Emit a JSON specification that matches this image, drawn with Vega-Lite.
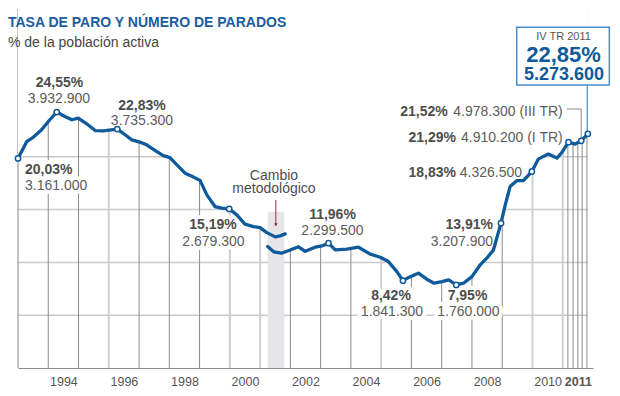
{
  "$schema": "https://vega.github.io/schema/vega-lite/v6.json",
  "width": 575,
  "height": 359,
  "autosize": "none",
  "padding": {"left": 18, "top": 9, "right": 27, "bottom": 28},
  "background": "white",
  "config": {"view": {"stroke": null}, "font": "Liberation Sans"},
  "title": {
    "text": "TASA DE PARO Y NÚMERO DE PARADOS",
    "subtitle": "% de la población activa",
    "anchor": "start",
    "frame": "group",
    "orient": "top",
    "offset": -42,
    "dx": -10,
    "font": "Liberation Sans",
    "fontSize": 14,
    "fontWeight": "bold",
    "color": "#1a5d9e",
    "subtitleFont": "Liberation Sans",
    "subtitleFontSize": 14,
    "subtitleColor": "#444444",
    "subtitlePadding": 6
  },
  "datasets": {
    "paro": [
      {"anio": 1993.00, "tasa": 19.85, "serie": "A", "parados": 3161000},
      {"anio": 1993.29, "tasa": 21.45, "serie": "A"},
      {"anio": 1993.51, "tasa": 21.87, "serie": "A"},
      {"anio": 1993.78, "tasa": 22.56, "serie": "A"},
      {"anio": 1994.03, "tasa": 23.44, "serie": "A"},
      {"anio": 1994.28, "tasa": 24.24, "serie": "A", "parados": 3932900},
      {"anio": 1994.55, "tasa": 23.82, "serie": "A"},
      {"anio": 1994.78, "tasa": 23.51, "serie": "A"},
      {"anio": 1994.99, "tasa": 23.67, "serie": "A"},
      {"anio": 1995.27, "tasa": 23.13, "serie": "A"},
      {"anio": 1995.55, "tasa": 22.49, "serie": "A"},
      {"anio": 1995.82, "tasa": 22.46, "serie": "A"},
      {"anio": 1996.28, "tasa": 22.63, "serie": "A", "parados": 3735300},
      {"anio": 1996.54, "tasa": 22.09, "serie": "A"},
      {"anio": 1996.76, "tasa": 21.61, "serie": "A"},
      {"anio": 1997.03, "tasa": 21.39, "serie": "A"},
      {"anio": 1997.25, "tasa": 21.14, "serie": "A"},
      {"anio": 1997.59, "tasa": 20.50, "serie": "A"},
      {"anio": 1997.80, "tasa": 20.12, "serie": "A"},
      {"anio": 1998.02, "tasa": 19.93, "serie": "A"},
      {"anio": 1998.25, "tasa": 19.24, "serie": "A"},
      {"anio": 1998.52, "tasa": 18.45, "serie": "A"},
      {"anio": 1998.80, "tasa": 18.08, "serie": "A"},
      {"anio": 1999.02, "tasa": 17.75, "serie": "A"},
      {"anio": 1999.24, "tasa": 16.40, "serie": "A"},
      {"anio": 1999.51, "tasa": 15.29, "serie": "A"},
      {"anio": 1999.73, "tasa": 15.14, "serie": "A"},
      {"anio": 1999.98, "tasa": 15.07, "serie": "A", "parados": 2679300},
      {"anio": 2000.23, "tasa": 14.50, "serie": "A"},
      {"anio": 2000.50, "tasa": 13.62, "serie": "A"},
      {"anio": 2000.78, "tasa": 13.39, "serie": "A"},
      {"anio": 2001.00, "tasa": 13.30, "serie": "A"},
      {"anio": 2001.22, "tasa": 12.82, "serie": "A"},
      {"anio": 2001.50, "tasa": 12.42, "serie": "A"},
      {"anio": 2001.66, "tasa": 12.51, "serie": "A"},
      {"anio": 2001.83, "tasa": 12.70, "serie": "A"},
      {"anio": 2001.25, "tasa": 11.50, "serie": "B"},
      {"anio": 2001.45, "tasa": 11.00, "serie": "B"},
      {"anio": 2001.70, "tasa": 10.87, "serie": "B"},
      {"anio": 2001.95, "tasa": 11.13, "serie": "B"},
      {"anio": 2002.27, "tasa": 11.48, "serie": "B"},
      {"anio": 2002.49, "tasa": 11.05, "serie": "B"},
      {"anio": 2002.82, "tasa": 11.44, "serie": "B"},
      {"anio": 2003.04, "tasa": 11.56, "serie": "B"},
      {"anio": 2003.26, "tasa": 11.82, "serie": "B", "parados": 2299500},
      {"anio": 2003.48, "tasa": 11.18, "serie": "B"},
      {"anio": 2003.87, "tasa": 11.25, "serie": "B"},
      {"anio": 2004.25, "tasa": 11.44, "serie": "B"},
      {"anio": 2004.64, "tasa": 10.78, "serie": "B"},
      {"anio": 2004.97, "tasa": 10.49, "serie": "B"},
      {"anio": 2005.24, "tasa": 10.08, "serie": "B"},
      {"anio": 2005.52, "tasa": 9.13, "serie": "B"},
      {"anio": 2005.72, "tasa": 8.27, "serie": "B", "parados": 1841300},
      {"anio": 2005.96, "tasa": 8.65, "serie": "B"},
      {"anio": 2006.23, "tasa": 8.98, "serie": "B"},
      {"anio": 2006.51, "tasa": 8.41, "serie": "B"},
      {"anio": 2006.75, "tasa": 8.03, "serie": "B"},
      {"anio": 2007.01, "tasa": 8.18, "serie": "B"},
      {"anio": 2007.23, "tasa": 8.34, "serie": "B"},
      {"anio": 2007.48, "tasa": 7.87, "serie": "B", "parados": 1760000},
      {"anio": 2007.72, "tasa": 8.03, "serie": "B"},
      {"anio": 2008.00, "tasa": 8.65, "serie": "B"},
      {"anio": 2008.27, "tasa": 9.76, "serie": "B"},
      {"anio": 2008.49, "tasa": 10.40, "serie": "B"},
      {"anio": 2008.71, "tasa": 11.18, "serie": "B"},
      {"anio": 2008.96, "tasa": 13.72, "serie": "B", "parados": 3207900},
      {"anio": 2009.10, "tasa": 15.45, "serie": "B"},
      {"anio": 2009.26, "tasa": 17.18, "serie": "B"},
      {"anio": 2009.49, "tasa": 17.75, "serie": "B"},
      {"anio": 2009.70, "tasa": 17.75, "serie": "B"},
      {"anio": 2009.98, "tasa": 18.61, "serie": "B", "parados": 4326500},
      {"anio": 2010.19, "tasa": 19.78, "serie": "B"},
      {"anio": 2010.52, "tasa": 20.26, "serie": "B"},
      {"anio": 2010.81, "tasa": 19.88, "serie": "B"},
      {"anio": 2010.97, "tasa": 20.41, "serie": "B"},
      {"anio": 2011.19, "tasa": 21.39, "serie": "B", "parados": 4910200},
      {"anio": 2011.41, "tasa": 21.20, "serie": "B"},
      {"anio": 2011.61, "tasa": 21.52, "serie": "B", "parados": 4978300},
      {"anio": 2011.83, "tasa": 22.18, "serie": "B", "parados": 5273600}
    ],
    "gridOscura": [
      {"anio": 1993}, {"anio": 1994}, {"anio": 1995}, {"anio": 1997}, {"anio": 1998}, {"anio": 1999},
      {"anio": 2002}, {"anio": 2003}, {"anio": 2004}, {"anio": 2006}, {"anio": 2007}, {"anio": 2008}, {"anio": 2009},
      {"anio": 2011.17}, {"anio": 2011.34}, {"anio": 2011.5}, {"anio": 2011.64}, {"anio": 2011.8}
    ],
    "gridClara": [
      {"anio": 1996}, {"anio": 2000}, {"anio": 2001}, {"anio": 2005}, {"anio": 2010}, {"anio": 2011}
    ],
    "gridH": [{"tasa": 5}, {"tasa": 10}, {"tasa": 15}, {"tasa": 20}]
  },
  "layer": [
    {
      "data": {"name": "gridH"},
      "mark": {"type": "rule", "color": "#c9c9c9", "strokeWidth": 1.5},
      "encoding": {
        "y": {"field": "tasa", "type": "quantitative", "scale": {"domain": [0, 34], "nice": false, "zero": true}, "axis": null},
        "x": {"datum": 1993, "type": "quantitative", "title": null},
        "x2": {"datum": 2011.83}
      }
    },
    {
      "data": {"name": "gridOscura"},
      "mark": {"type": "rule", "color": "#8a8a8a", "strokeWidth": 1},
      "encoding": {
        "x": {"field": "anio", "type": "quantitative", "title": null},
        "y": {"datum": 0, "type": "quantitative", "axis": null},
        "y2": {"datum": 34}
      }
    },
    {
      "data": {"name": "gridClara"},
      "mark": {"type": "rule", "color": "#cfcfcf", "strokeWidth": 2},
      "encoding": {
        "x": {"field": "anio", "type": "quantitative", "title": null},
        "y": {"datum": 0, "type": "quantitative", "axis": null},
        "y2": {"datum": 34}
      }
    },
    {
      "data": {"name": "paro"},
      "transform": [{"filter": "datum.serie == 'A' || datum.anio > 2001.9"}],
      "mark": {"type": "area", "color": "white", "opacity": 1},
      "encoding": {
        "x": {
          "field": "anio",
          "type": "quantitative",
          "scale": {"domain": [1993, 2012], "nice": false, "zero": false},
          "axis": {
            "title": null,
            "values": [1994.5, 1996.5, 1998.5, 2000.5, 2002.5, 2004.5, 2006.5, 2008.5, 2010.5, 2011.5],
            "labelExpr": "'' + floor(datum.value)",
            "grid": false,
            "ticks": false,
            "domain": true,
            "domainColor": "#8a8a8a",
            "domainWidth": 1,
            "labelFont": "Liberation Sans",
            "labelFontSize": 12.5,
            "labelColor": "#555555",
            "labelPadding": 7,
            "labelOverlap": false,
            "labelFlush": false,
            "labelBound": false,
            "labelFontWeight": {"condition": {"test": "datum.value > 2011", "value": "bold"}, "value": "normal"}
          }
        },
        "y": {"field": "tasa", "type": "quantitative", "axis": null},
        "y2": {"datum": 34}
      }
    },
    {
      "data": {"values": [{}]},
      "mark": {"type": "rect", "color": "#e6e6e9"},
      "encoding": {
        "x": {"datum": 2001.25, "type": "quantitative", "title": null},
        "x2": {"datum": 2001.80},
        "y": {"datum": 0, "type": "quantitative", "axis": null},
        "y2": {"datum": 14.8}
      }
    },
    {
      "data": {"values": [{}]},
      "encoding": {"x": {"datum": 1993.231, "type": "quantitative", "title": null}, "y": {"datum": 18.37, "type": "quantitative", "axis": null}},
      "layer": [
        {"mark": {"type": "text", "text": "20,03%", "align": "left", "baseline": "alphabetic", "fontSize": 14, "fontWeight": "bold", "fill": "white", "stroke": "white", "strokeWidth": 8, "strokeJoin": "round"}},
        {"mark": {"type": "text", "text": "20,03%", "align": "left", "baseline": "alphabetic", "fontSize": 14, "fontWeight": "bold", "color": "#4d4d4d"}}
      ]
    },
    {
      "data": {"values": [{}]},
      "encoding": {"x": {"datum": 1993.231, "type": "quantitative", "title": null}, "y": {"datum": 16.86, "type": "quantitative", "axis": null}},
      "layer": [
        {"mark": {"type": "text", "text": "3.161.000", "align": "left", "baseline": "alphabetic", "fontSize": 14, "fill": "white", "stroke": "white", "strokeWidth": 8, "strokeJoin": "round"}},
        {"mark": {"type": "text", "text": "3.161.000", "align": "left", "baseline": "alphabetic", "fontSize": 14, "color": "#5c5c5c"}}
      ]
    },
    {
      "data": {"values": [{}]},
      "encoding": {"x": {"datum": 1999.443, "type": "quantitative", "title": null}, "y": {"datum": 13.16, "type": "quantitative", "axis": null}},
      "layer": [
        {"mark": {"type": "text", "text": "15,19%", "align": "center", "baseline": "alphabetic", "fontSize": 14, "fontWeight": "bold", "fill": "white", "stroke": "white", "strokeWidth": 8, "strokeJoin": "round"}},
        {"mark": {"type": "text", "text": "15,19%", "align": "center", "baseline": "alphabetic", "fontSize": 14, "fontWeight": "bold", "color": "#4d4d4d"}}
      ]
    },
    {
      "data": {"values": [{}]},
      "encoding": {"x": {"datum": 1999.46, "type": "quantitative", "title": null}, "y": {"datum": 11.55, "type": "quantitative", "axis": null}},
      "layer": [
        {"mark": {"type": "text", "text": "2.679.300", "align": "center", "baseline": "alphabetic", "fontSize": 14, "fill": "white", "stroke": "white", "strokeWidth": 8, "strokeJoin": "round"}},
        {"mark": {"type": "text", "text": "2.679.300", "align": "center", "baseline": "alphabetic", "fontSize": 14, "color": "#5c5c5c"}}
      ]
    },
    {
      "data": {"values": [{}]},
      "encoding": {"x": {"datum": 2003.392, "type": "quantitative", "title": null}, "y": {"datum": 14.11, "type": "quantitative", "axis": null}},
      "layer": [
        {"mark": {"type": "text", "text": "11,96%", "align": "center", "baseline": "alphabetic", "fontSize": 14, "fontWeight": "bold", "fill": "white", "stroke": "white", "strokeWidth": 8, "strokeJoin": "round"}},
        {"mark": {"type": "text", "text": "11,96%", "align": "center", "baseline": "alphabetic", "fontSize": 14, "fontWeight": "bold", "color": "#4d4d4d"}}
      ]
    },
    {
      "data": {"values": [{}]},
      "encoding": {"x": {"datum": 2003.392, "type": "quantitative", "title": null}, "y": {"datum": 12.60, "type": "quantitative", "axis": null}},
      "layer": [
        {"mark": {"type": "text", "text": "2.299.500", "align": "center", "baseline": "alphabetic", "fontSize": 14, "fill": "white", "stroke": "white", "strokeWidth": 8, "strokeJoin": "round"}},
        {"mark": {"type": "text", "text": "2.299.500", "align": "center", "baseline": "alphabetic", "fontSize": 14, "color": "#5c5c5c"}}
      ]
    },
    {
      "data": {"values": [{}]},
      "encoding": {"x": {"datum": 2005.325, "type": "quantitative", "title": null}, "y": {"datum": 6.44, "type": "quantitative", "axis": null}},
      "layer": [
        {"mark": {"type": "text", "text": "8,42%", "align": "center", "baseline": "alphabetic", "fontSize": 14, "fontWeight": "bold", "fill": "white", "stroke": "white", "strokeWidth": 8, "strokeJoin": "round"}},
        {"mark": {"type": "text", "text": "8,42%", "align": "center", "baseline": "alphabetic", "fontSize": 14, "fontWeight": "bold", "color": "#4d4d4d"}}
      ]
    },
    {
      "data": {"values": [{}]},
      "encoding": {"x": {"datum": 2005.358, "type": "quantitative", "title": null}, "y": {"datum": 4.92, "type": "quantitative", "axis": null}},
      "layer": [
        {"mark": {"type": "text", "text": "1.841.300", "align": "center", "baseline": "alphabetic", "fontSize": 14, "fill": "white", "stroke": "white", "strokeWidth": 8, "strokeJoin": "round"}},
        {"mark": {"type": "text", "text": "1.841.300", "align": "center", "baseline": "alphabetic", "fontSize": 14, "color": "#5c5c5c"}}
      ]
    },
    {
      "data": {"values": [{}]},
      "encoding": {"x": {"datum": 2007.853, "type": "quantitative", "title": null}, "y": {"datum": 6.44, "type": "quantitative", "axis": null}},
      "layer": [
        {"mark": {"type": "text", "text": "7,95%", "align": "center", "baseline": "alphabetic", "fontSize": 14, "fontWeight": "bold", "fill": "white", "stroke": "white", "strokeWidth": 8, "strokeJoin": "round"}},
        {"mark": {"type": "text", "text": "7,95%", "align": "center", "baseline": "alphabetic", "fontSize": 14, "fontWeight": "bold", "color": "#4d4d4d"}}
      ]
    },
    {
      "data": {"values": [{}]},
      "encoding": {"x": {"datum": 2007.886, "type": "quantitative", "title": null}, "y": {"datum": 4.92, "type": "quantitative", "axis": null}},
      "layer": [
        {"mark": {"type": "text", "text": "1.760.000", "align": "center", "baseline": "alphabetic", "fontSize": 14, "fill": "white", "stroke": "white", "strokeWidth": 8, "strokeJoin": "round"}},
        {"mark": {"type": "text", "text": "1.760.000", "align": "center", "baseline": "alphabetic", "fontSize": 14, "color": "#5c5c5c"}}
      ]
    },
    {
      "data": {"values": [{}]},
      "mark": {"type": "text", "text": "24,55%", "align": "center", "baseline": "alphabetic", "fontSize": 14, "fontWeight": "bold", "color": "#4d4d4d"},
      "encoding": {"x": {"datum": 1994.371, "type": "quantitative", "title": null}, "y": {"datum": 26.61, "type": "quantitative", "axis": null}}
    },
    {
      "data": {"values": [{}]},
      "mark": {"type": "text", "text": "3.932.900", "align": "center", "baseline": "alphabetic", "fontSize": 14, "color": "#5c5c5c"},
      "encoding": {"x": {"datum": 1994.355, "type": "quantitative", "title": null}, "y": {"datum": 25.10, "type": "quantitative", "axis": null}}
    },
    {
      "data": {"values": [{}]},
      "mark": {"type": "text", "text": "22,83%", "align": "center", "baseline": "alphabetic", "fontSize": 14, "fontWeight": "bold", "color": "#4d4d4d"},
      "encoding": {"x": {"datum": 1997.097, "type": "quantitative", "title": null}, "y": {"datum": 24.43, "type": "quantitative", "axis": null}}
    },
    {
      "data": {"values": [{}]},
      "mark": {"type": "text", "text": "3.735.300", "align": "center", "baseline": "alphabetic", "fontSize": 14, "color": "#5c5c5c"},
      "encoding": {"x": {"datum": 1997.097, "type": "quantitative", "title": null}, "y": {"datum": 23.01, "type": "quantitative", "axis": null}}
    },
    {
      "data": {"values": [{}]},
      "mark": {"type": "text", "text": "Cambio", "align": "center", "baseline": "alphabetic", "fontSize": 14, "color": "#4d4d4d"},
      "encoding": {"x": {"datum": 2001.459, "type": "quantitative", "title": null}, "y": {"datum": 17.80, "type": "quantitative", "axis": null}}
    },
    {
      "data": {"values": [{}]},
      "mark": {"type": "text", "text": "metodológico", "align": "center", "baseline": "alphabetic", "fontSize": 14, "color": "#4d4d4d"},
      "encoding": {"x": {"datum": 2001.459, "type": "quantitative", "title": null}, "y": {"datum": 16.55, "type": "quantitative", "axis": null}}
    },
    {
      "data": {"values": [{}]},
      "mark": {"type": "text", "text": "13,91%", "align": "right", "baseline": "alphabetic", "fontSize": 14, "fontWeight": "bold", "color": "#4d4d4d"},
      "encoding": {"x": {"datum": 2008.696, "type": "quantitative", "title": null}, "y": {"datum": 13.16, "type": "quantitative", "axis": null}}
    },
    {
      "data": {"values": [{}]},
      "mark": {"type": "text", "text": "3.207.900", "align": "right", "baseline": "alphabetic", "fontSize": 14, "color": "#5c5c5c"},
      "encoding": {"x": {"datum": 2008.696, "type": "quantitative", "title": null}, "y": {"datum": 11.55, "type": "quantitative", "axis": null}}
    },
    {
      "data": {"values": [{}]},
      "mark": {"type": "text", "text": "18,83%", "align": "right", "baseline": "alphabetic", "fontSize": 14, "fontWeight": "bold", "color": "#4d4d4d"},
      "encoding": {"x": {"datum": 2007.473, "type": "quantitative", "title": null}, "y": {"datum": 18.09, "type": "quantitative", "axis": null}}
    },
    {
      "data": {"values": [{}]},
      "mark": {"type": "text", "text": "4.326.500", "align": "right", "baseline": "alphabetic", "fontSize": 14, "color": "#5c5c5c"},
      "encoding": {"x": {"datum": 2009.654, "type": "quantitative", "title": null}, "y": {"datum": 18.09, "type": "quantitative", "axis": null}}
    },
    {
      "data": {"values": [{}]},
      "mark": {"type": "text", "text": "21,29%", "align": "right", "baseline": "alphabetic", "fontSize": 14, "fontWeight": "bold", "color": "#4d4d4d"},
      "encoding": {"x": {"datum": 2007.473, "type": "quantitative", "title": null}, "y": {"datum": 21.36, "type": "quantitative", "axis": null}}
    },
    {
      "data": {"values": [{}]},
      "mark": {"type": "text", "text": "4.910.200 (I TR)", "align": "right", "baseline": "alphabetic", "fontSize": 14, "color": "#5c5c5c"},
      "encoding": {"x": {"datum": 2010.999, "type": "quantitative", "title": null}, "y": {"datum": 21.36, "type": "quantitative", "axis": null}}
    },
    {
      "data": {"values": [{}]},
      "mark": {"type": "text", "text": "21,52%", "align": "right", "baseline": "alphabetic", "fontSize": 14, "fontWeight": "bold", "color": "#4d4d4d"},
      "encoding": {"x": {"datum": 2007.199, "type": "quantitative", "title": null}, "y": {"datum": 23.91, "type": "quantitative", "axis": null}}
    },
    {
      "data": {"values": [{}]},
      "mark": {"type": "text", "text": "4.978.300 (III TR)", "align": "right", "baseline": "alphabetic", "fontSize": 14, "color": "#5c5c5c"},
      "encoding": {"x": {"datum": 2010.999, "type": "quantitative", "title": null}, "y": {"datum": 23.91, "type": "quantitative", "axis": null}}
    },
    {
      "data": {"values": [{}]},
      "mark": {"type": "rule", "color": "#8a8a8a", "strokeWidth": 1},
      "encoding": {
        "x": {"datum": 2011.13, "type": "quantitative", "title": null},
        "x2": {"datum": 2011.61},
        "y": {"datum": 24.53, "type": "quantitative", "axis": null}
      }
    },
    {
      "data": {"values": [{}]},
      "mark": {"type": "rule", "color": "#8a8a8a", "strokeWidth": 1},
      "encoding": {
        "x": {"datum": 2011.61, "type": "quantitative", "title": null},
        "y": {"datum": 24.53, "type": "quantitative", "axis": null},
        "y2": {"datum": 21.6}
      }
    },
    {
      "data": {"values": [{}]},
      "mark": {"type": "rule", "color": "#6aa3d8", "strokeWidth": 1.5},
      "encoding": {
        "x": {"datum": 2011.81, "type": "quantitative", "title": null},
        "y": {"datum": 26.8, "type": "quantitative", "axis": null},
        "y2": {"datum": 22.3}
      }
    },
    {
      "data": {"values": [{}]},
      "mark": {"type": "rule", "color": "#9a3232", "strokeWidth": 1},
      "encoding": {
        "x": {"datum": 2001.52, "type": "quantitative", "title": null},
        "y": {"datum": 15.91, "type": "quantitative", "axis": null},
        "y2": {"datum": 13.6}
      }
    },
    {
      "data": {"values": [{}]},
      "mark": {"type": "point", "shape": "triangle-down", "filled": true, "color": "#9a3232", "size": 14, "opacity": 1},
      "encoding": {
        "x": {"datum": 2001.52, "type": "quantitative", "title": null},
        "y": {"datum": 13.55, "type": "quantitative", "axis": null}
      }
    },
    {
      "data": {"name": "paro"},
      "mark": {"type": "line", "color": "#0e5a9a", "strokeWidth": 3.3, "strokeJoin": "round", "strokeCap": "round"},
      "encoding": {
        "x": {"field": "anio", "type": "quantitative", "title": null},
        "y": {"field": "tasa", "type": "quantitative", "axis": null},
        "detail": {"field": "serie"},
        "order": {"field": "anio"}
      }
    },
    {
      "data": {"name": "paro"},
      "transform": [{"filter": "isValid(datum.parados)"}],
      "mark": {"type": "point", "shape": "circle", "filled": true, "fill": "white", "stroke": "#0e5a9a", "strokeWidth": 1.5, "size": 28, "opacity": 1},
      "encoding": {
        "x": {"field": "anio", "type": "quantitative", "title": null},
        "y": {"field": "tasa", "type": "quantitative", "axis": null}
      }
    },
    {
      "data": {"values": [{}]},
      "mark": {"type": "rect", "fill": "white", "stroke": "#4a8cc8", "strokeWidth": 1.5},
      "encoding": {
        "x": {"datum": 2009.48, "type": "quantitative", "title": null},
        "x2": {"datum": 2012.54},
        "y": {"datum": 32.27, "type": "quantitative", "axis": null},
        "y2": {"datum": 26.80}
      }
    },
    {
      "data": {"values": [{}]},
      "mark": {"type": "text", "text": "IV TR 2011", "align": "center", "baseline": "alphabetic", "fontSize": 11, "color": "#555555"},
      "encoding": {"x": {"datum": 2011.025, "type": "quantitative", "title": null}, "y": {"datum": 31.06, "type": "quantitative", "axis": null}}
    },
    {
      "data": {"values": [{}]},
      "mark": {"type": "text", "text": "22,85%", "align": "center", "baseline": "alphabetic", "fontSize": 22, "fontWeight": "bold", "color": "#0e5a9a"},
      "encoding": {"x": {"datum": 2011.025, "type": "quantitative", "title": null}, "y": {"datum": 28.98, "type": "quantitative", "axis": null}}
    },
    {
      "data": {"values": [{}]},
      "mark": {"type": "text", "text": "5.273.600", "align": "center", "baseline": "alphabetic", "fontSize": 18, "fontWeight": "bold", "color": "#0e5a9a"},
      "encoding": {"x": {"datum": 2011.04, "type": "quantitative", "title": null}, "y": {"datum": 27.28, "type": "quantitative", "axis": null}}
    }
  ]
}
